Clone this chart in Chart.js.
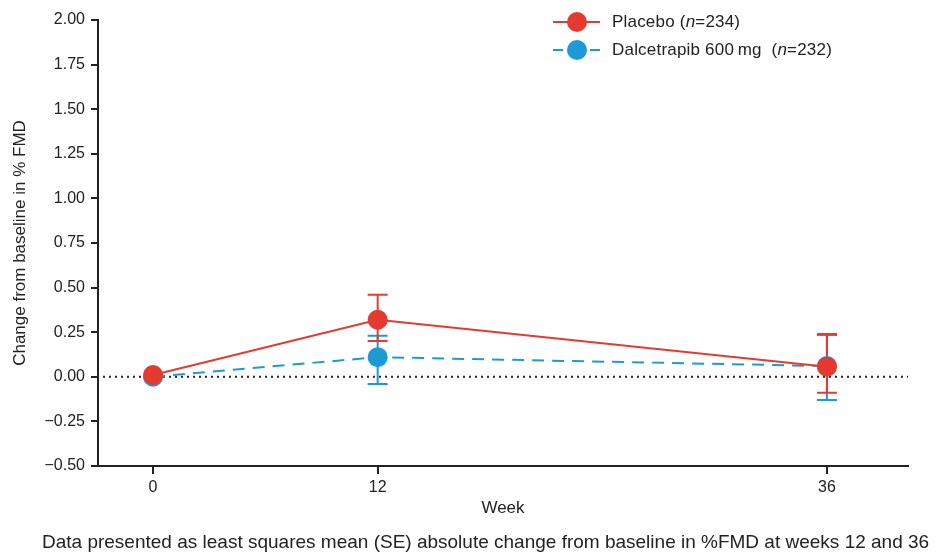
<!DOCTYPE html>
<html>
<head>
<meta charset="utf-8">
<script src="https://cdn.jsdelivr.net/npm/chart.js@4"></script>
<style>
  html, body { margin: 0; padding: 0; background: #fff; }
  #wrap { position: relative; width: 941px; height: 553px; font-family: 'Liberation Sans', Arial, sans-serif; color: #222; }
  #grafico { position: absolute; left: 0; top: 0; }
  .leg { position: absolute; left: 553px; height: 24px; font-size: 17px; line-height: 24px; letter-spacing: 0.2px; }
  .leg svg { position: absolute; left: 0; top: 0; }
  .leg span { position: absolute; left: 59px; top: 0; white-space: nowrap; }
  #legenda1 { top: 10px; }
  #legenda2 { top: 38px; }
  #rodape { position: absolute; left: 42px; top: 530px; font-size: 19px; line-height: 24px; white-space: nowrap; }
</style>
</head>
<body>
<div id="wrap">
  <canvas id="grafico" width="941" height="553"></canvas>
  <div class="leg" id="legenda1">
    <svg width="50" height="24"><line x1="0" y1="12" x2="47" y2="12" stroke="#e53a2f" stroke-width="2"/><circle cx="24" cy="12" r="10" fill="#e53a2f"/></svg>
    <span>Placebo (<i>n</i>=234)</span>
  </div>
  <div class="leg" id="legenda2">
    <svg width="50" height="24"><line x1="0" y1="12" x2="10" y2="12" stroke="#1b9ad6" stroke-width="2"/><line x1="37" y1="12" x2="47" y2="12" stroke="#1b9ad6" stroke-width="2"/><circle cx="24" cy="12" r="10" fill="#1b9ad6"/></svg>
    <span>Dalcetrapib 600&#8201;mg&nbsp; (<i>n</i>=232)</span>
  </div>
  <div id="rodape">Data presented as least squares mean (SE) absolute change from baseline in %FMD at weeks 12 and 36</div>
</div>
<script>
// dados
const semanas = [0, 12, 36];
const placeboMedia = [0.01, 0.32, 0.057];
const placeboErroSup = [null, 0.46, 0.24];
const placeboErroInf = [null, 0.20, -0.09];
const dalcetrapibMedia = [0.0, 0.11, 0.06];
const dalcetrapibErroSup = [null, 0.23, 0.235];
const dalcetrapibErroInf = [null, -0.04, -0.13];
const ticksY = [-0.5, -0.25, 0, 0.25, 0.5, 0.75, 1, 1.25, 1.5, 1.75, 2];

const vermelho = '#e53a2f';
const azul = '#1b9ad6';
const fonteTicks = { family: "'Liberation Sans', Arial, sans-serif", size: 16 };
const fonteTitulo = { family: "'Liberation Sans', Arial, sans-serif", size: 17 };

// linha pontilhada do zero + barras de erro
const pluginExtras = {
    id: 'extras',
    beforeDatasetsDraw(chart) {
        const ctx = chart.ctx;
        const xs = chart.scales.x;
        const ys = chart.scales.y;
        const area = chart.chartArea;

        ctx.save();
        ctx.strokeStyle = '#222';
        ctx.lineWidth = 2;
        ctx.setLineDash([2, 4]);
        const y0 = ys.getPixelForValue(0);
        ctx.beginPath();
        ctx.moveTo(area.left + 5, y0);
        ctx.lineTo(area.right, y0);
        ctx.stroke();
        ctx.setLineDash([]);

        const grupos = [
            { cor: azul, sup: dalcetrapibErroSup, inf: dalcetrapibErroInf },
            { cor: vermelho, sup: placeboErroSup, inf: placeboErroInf }
        ];
        grupos.forEach(g => {
            ctx.strokeStyle = g.cor;
            ctx.lineWidth = 2;
            semanas.forEach((s, i) => {
                if (g.sup[i] === null) return;
                const x = xs.getPixelForValue(s);
                const yt = ys.getPixelForValue(g.sup[i]);
                const yb = ys.getPixelForValue(g.inf[i]);
                ctx.beginPath();
                ctx.moveTo(x, yt); ctx.lineTo(x, yb);
                ctx.moveTo(x - 10, yt); ctx.lineTo(x + 10, yt);
                ctx.moveTo(x - 10, yb); ctx.lineTo(x + 10, yb);
                ctx.stroke();
            });
        });
        ctx.restore();
    }
};

new Chart(document.getElementById('grafico'), {
    type: 'scatter',
    data: {
        datasets: [{
            label: 'Placebo',
            data: semanas.map((s, i) => ({ x: s, y: placeboMedia[i] })),
            showLine: true,
            borderColor: vermelho,
            backgroundColor: vermelho,
            borderWidth: 2,
            pointRadius: 10,
            pointBorderWidth: 0,
            pointHoverRadius: 10
        }, {
            label: 'Dalcetrapib 600 mg',
            data: semanas.map((s, i) => ({ x: s, y: dalcetrapibMedia[i] })),
            showLine: true,
            borderColor: azul,
            backgroundColor: azul,
            borderWidth: 2,
            borderDash: [12, 8],
            pointRadius: 10,
            pointBorderWidth: 0,
            pointHoverRadius: 10
        }]
    },
    options: {
        responsive: false,
        animation: false,
        layout: { padding: { top: 20, right: 33, left: 8, bottom: 30 } },
        plugins: { legend: { display: false }, tooltip: { enabled: false } },
        scales: {
            x: {
                type: 'linear',
                min: -2.94,
                max: 40.33,
                afterBuildTicks: (s) => { s.ticks = semanas.map(v => ({ value: v })); },
                afterFit: (s) => { s.height = 57; },
                grid: { drawOnChartArea: false, drawTicks: true, tickLength: 8, color: '#222', lineWidth: 2 },
                border: { display: true, color: '#222', width: 2 },
                ticks: { font: fonteTicks, color: '#222', padding: 4, maxRotation: 0 },
                title: { display: true, text: 'Week', font: fonteTitulo, color: '#222', padding: { top: 2, bottom: 4 } }
            },
            y: {
                min: -0.5,
                max: 2,
                afterBuildTicks: (s) => { s.ticks = ticksY.map(v => ({ value: v })); },
                afterFit: (s) => { s.width = 90; },
                grid: { drawOnChartArea: false, drawTicks: true, tickLength: 7, color: '#222', lineWidth: 2 },
                border: { display: true, color: '#222', width: 2 },
                ticks: {
                    font: fonteTicks, color: '#222', padding: 6,
                    callback: (v) => (v < 0 ? '\u2212' + Math.abs(v).toFixed(2) : v.toFixed(2))
                },
                title: { display: true, text: 'Change from baseline in % FMD', font: fonteTitulo, color: '#222', padding: { top: 2, bottom: 4 } }
            }
        }
    },
    plugins: [pluginExtras]
});
</script>
</body>
</html>
